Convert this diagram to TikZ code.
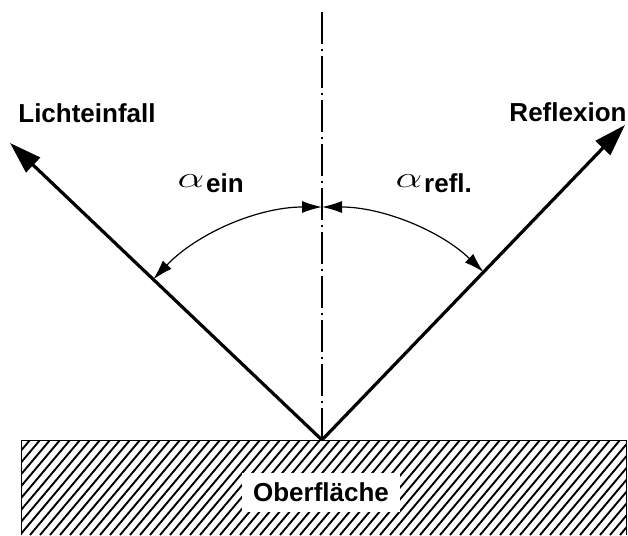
\documentclass[tikz,border=0pt]{standalone}
\usepackage{fontspec}
\setmainfont{Liberation Sans}
\usetikzlibrary{arrows.meta,positioning}

\begin{document}
\begin{tikzpicture}[x=1pt,y=1pt,font=\bfseries,>=Latex]
\tikzset{
  ray/.style={line width=3.2pt,-{Triangle[length=32pt,width=20pt]}},
  sweep/.style={line width=1.2pt,{Latex[length=20pt,width=12pt]}-{Latex[length=20pt,width=12pt]}},
  axisline/.style={line width=1.4pt,dash pattern=on 32pt off 5pt on 2pt off 5pt},
  hatch/.style={line width=1.9pt},
  lab/.style={font=\bfseries\fontsize{26}{29}\selectfont,inner sep=0pt},
  greek/.style={font=\fontsize{26}{29}\selectfont,inner sep=0pt}
}
\useasboundingbox (0,0) rectangle (628,535);

% ---------- geometry -----------------------------------------------------
\coordinate (O)     at (322,95);
\coordinate (axTop) at (322,523);
\coordinate (inTip) at (10,392);
\coordinate (outTip) at (625,410);
\coordinate (apex)  at (322,328);

% ---------- surface ------------------------------------------------------
\begin{scope}
  \clip (21.5,0) rectangle (626,95);
  \foreach \x in {-100,-90,...,640}
    \draw[hatch] (\x,0) -- ++(80,95);
\end{scope}
\draw[line width=0.8pt] (21.5,0) -- (21.5,95) -- (626,95) -- (626,0);
\node[lab,fill=white,minimum width=158pt,minimum height=39pt] (surf) at (321,42.5) {Oberfläche};

% ---------- normal and rays ---------------------------------------------
\draw[axisline] (axTop) -- (O);
\draw[ray] (O) -- (inTip);
\draw[ray] (O) -- (outTip);

% ---------- angles -------------------------------------------------------
\draw[sweep] (apex) arc[start angle=90,end angle=136.4,radius=233];
\draw[sweep] (apex) arc[start angle=90,end angle=46.1,radius=233];

% ---------- labels -------------------------------------------------------
\node[lab] (inlab)  at (87,422)  {Lichteinfall};
\node[lab] (outlab) at (568,423) {Reflexion};
\node[greek] (alphaIn) at (191,354) {\scalebox{1.7}[1.2]{$\alpha$}};
\node[lab,anchor=west] (einlab) at (206,352) {ein};
\node[greek] (alphaOut) at (409,354) {\scalebox{1.7}[1.2]{$\alpha$}};
\node[lab,anchor=west] (refllab) at (424,352) {refl.};
\end{tikzpicture}
\end{document}
